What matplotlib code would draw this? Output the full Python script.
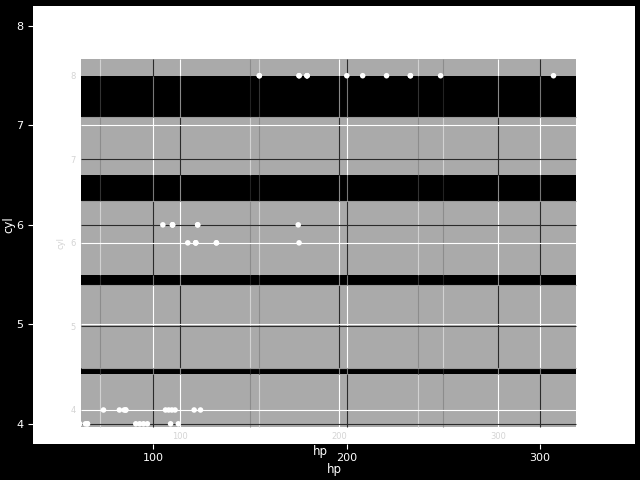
import matplotlib
matplotlib.use('Agg')
import matplotlib.pyplot as plt
from matplotlib.patches import Rectangle

# mtcars: horsepower and number of cylinders
hp = [110, 110, 93, 110, 175, 105, 245, 62, 95, 123, 123, 180, 180, 180, 205, 215,
      230, 66, 52, 65, 97, 150, 150, 245, 175, 66, 91, 113, 264, 175, 335, 109]
cyl = [6, 6, 4, 6, 8, 6, 8, 4, 4, 6, 6, 8, 8, 8, 8, 8,
       8, 4, 4, 4, 4, 8, 8, 8, 8, 4, 4, 4, 8, 6, 8, 4]
x_ticks = [100, 200, 300]
y_ticks = [4, 5, 6, 7, 8]
x_minor = [50, 150, 250]
y_minor = [4.5, 5.5, 6.5, 7.5]

def lims(v):
    lo, hi = min(v), max(v)
    m = 0.05 * (hi - lo)
    return lo - m, hi + m

xlim = lims(hp)
ylim = lims(cyl)

fig = plt.figure(figsize=(6.4, 4.8), dpi=100, facecolor='black')
OUT = [33 / 640, 1 - 443.7 / 480, 602 / 640, 437.7 / 480]
IN = [81 / 640, 1 - 426.7 / 480, 495 / 640, 367.7 / 480]

# outer axes
ax = fig.add_axes(OUT, facecolor='white', zorder=0)
ax.set_xlim(xlim); ax.set_ylim(ylim)
ax.set_xticks(x_ticks); ax.set_yticks(y_ticks)
for s in ax.spines.values():
    s.set_visible(False)
ax.tick_params(colors='white', labelcolor='white', labelsize=8, length=3.5, width=0.8)
ax.set_xlabel('hp', color='white', fontsize=8.5, labelpad=0)
ax.set_ylabel('cyl', color='white', fontsize=8.5, labelpad=0.5)

# inner panel axes
ai = fig.add_axes(IN, facecolor='#aaaaaa', zorder=1)
ai.set_xlim(xlim); ai.set_ylim(ylim)
ai.set_xticks(x_ticks); ai.set_yticks(y_ticks)
for s in ai.spines.values():
    s.set_visible(False)
ai.tick_params(length=0, labelsize=6, labelcolor='#d4d4d4', pad=4)
ai.set_ylabel('cyl', color='#d4d4d4', fontsize=6, labelpad=3)
fig.text(320 / 640, 1 - 451 / 480, 'hp', color='white', fontsize=8.5,
         ha='center', va='center')

# overlay axes (same place as outer)
ov = fig.add_axes(OUT, zorder=2)
ov.patch.set_alpha(0)
ov.set_xlim(xlim); ov.set_ylim(ylim)
ov.axis('off')

T = ai.transData + ov.transData.inverted()
def ix(v):
    return T.transform((v, ylim[0]))[0]
def iy(v):
    return T.transform((xlim[0], v))[1]

px0, px1 = ix(xlim[0]), ix(xlim[1])
py0, py1 = iy(ylim[0]), iy(ylim[1])

bands = sorted([(min(k, iy(k)), max(k, iy(k))) for k in y_minor], key=lambda b: -b[1])
edges = [py1]
for lo_, hi_ in bands:
    edges += [hi_, lo_]
edges.append(py0)
zones = [(edges[2 * i + 1], edges[2 * i]) for i in range(len(bands) + 1)]

normal = {'im': 'white', 'in': '#d2d2d2', 'om': '#2b2b2b', 'on': '#8c8c8c'}
invert = {'im': '#2b2b2b', 'in': '#8c8c8c', 'om': 'white', 'on': '#d2d2d2'}
bandc = {'im': '#8a8a8a', 'in': '#333333', 'om': '#777777', 'on': '#222222'}

vlines = [(ix(v), 'im') for v in x_ticks] + [(ix(v), 'in') for v in x_minor] + \
         [(v, 'om') for v in x_ticks] + [(v, 'on') for v in x_minor]
vlines = [(x, k) for x, k in vlines if px0 <= x <= px1]
hlines = [(iy(v), 'im') for v in y_ticks] + [(v, 'om') for v in y_ticks]
hlines = [(y, k) for y, k in hlines if py0 <= y <= py1]

LW = 0.8
for i, (y0, y1) in enumerate(zones):
    cmap = normal if i % 2 == 0 else invert
    for x, k in vlines:
        ov.vlines(x, y0, y1, colors=cmap[k], lw=LW, zorder=2)
    for y, k in hlines:
        if y0 <= y <= y1:
            ov.hlines(y, px0, px1, colors=cmap[k], lw=LW, zorder=3)

for lo_, hi_ in bands:
    ov.add_patch(Rectangle((px0, lo_), px1 - px0, hi_ - lo_, facecolor='black',
                           edgecolor='none', zorder=1.5))
    for x, k in vlines:
        ov.vlines(x, lo_, hi_, colors=bandc[k], lw=LW, zorder=2)
for k in y_minor:
    ov.hlines(iy(k), px0, px1, colors='#999999', lw=LW, zorder=3)

# points: inner panel and outer axes
ov.scatter(hp, cyl, s=16, color='white', edgecolors='none', zorder=5,
           transform=ai.transData)
ov.scatter(hp, cyl, s=16, color='white', edgecolors='none', zorder=5)

fig.savefig('out.png', dpi=100, facecolor='black')
